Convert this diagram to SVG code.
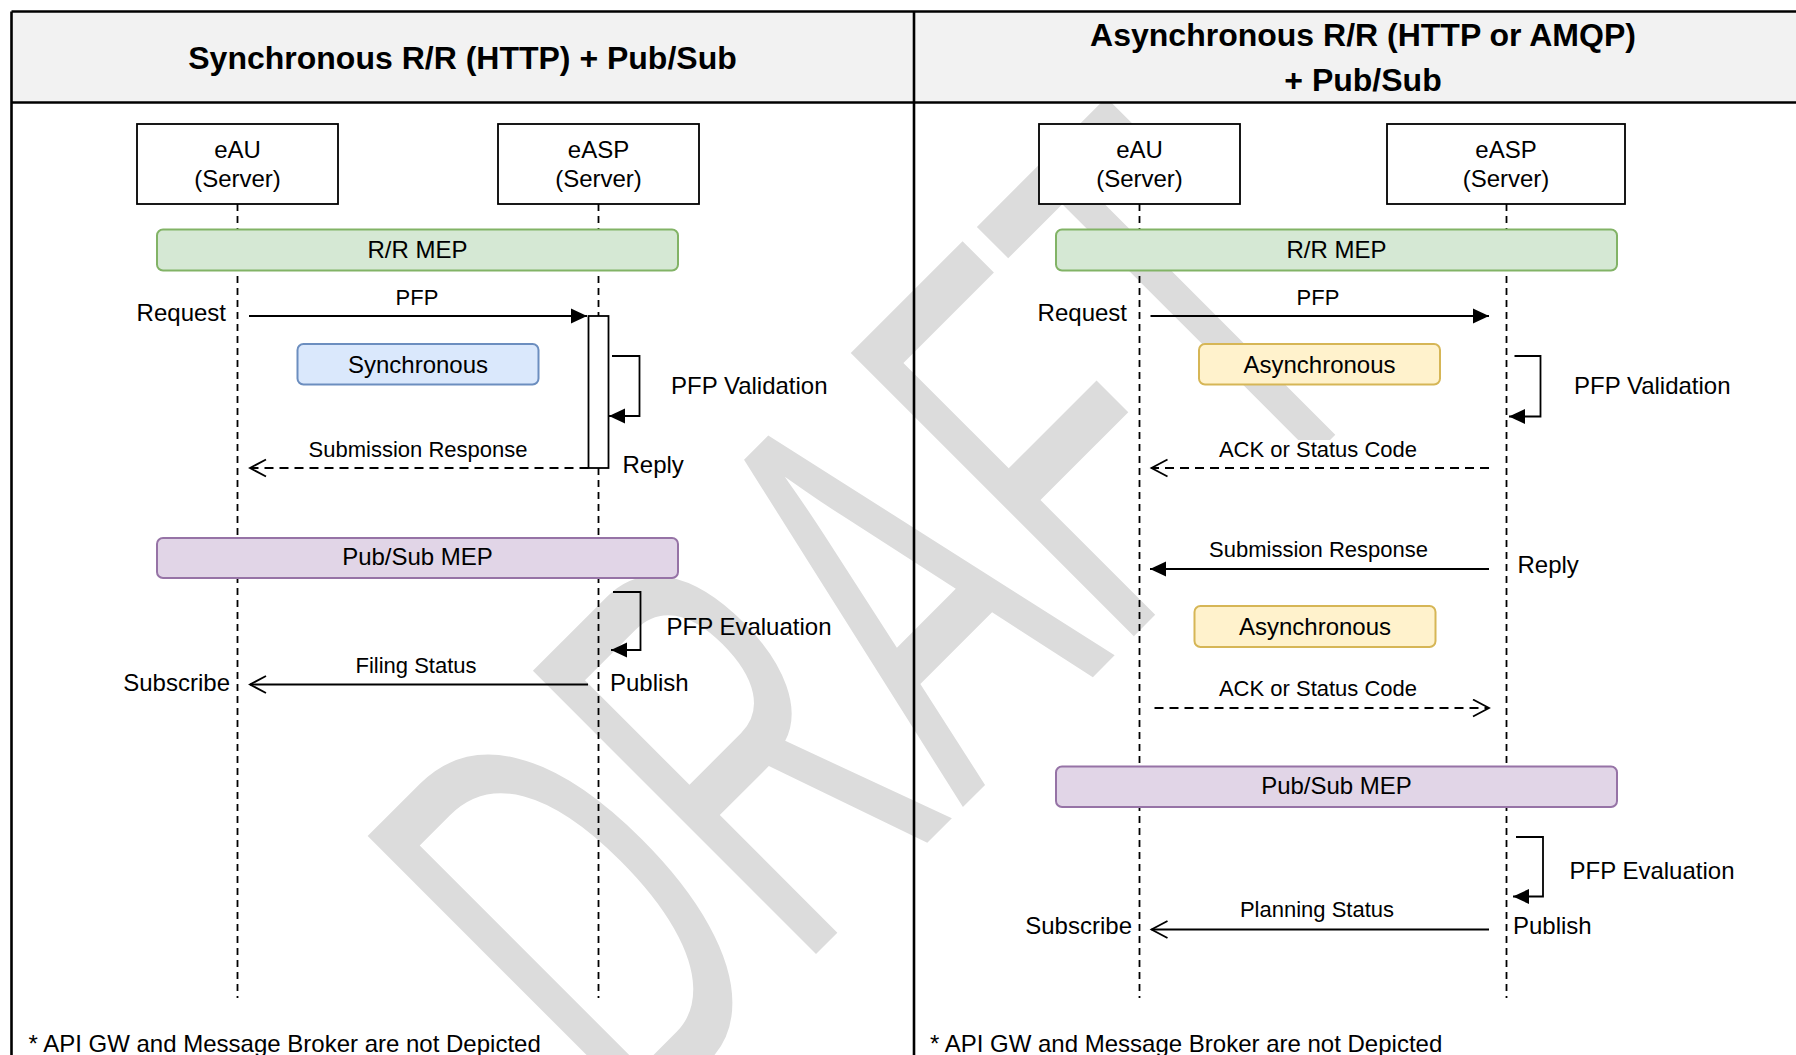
<svg xmlns="http://www.w3.org/2000/svg" width="1796" height="1055" viewBox="0 0 1796 1055">
<style>
text{font-family:"Liberation Sans",Arial,sans-serif;fill:#000}
.n{font-size:24px}
.e{font-size:22px}
.c{text-anchor:middle}
.r{text-anchor:end}
.title{font-weight:bold;font-size:32px}
.foot{font-size:24px}
.box{fill:#fff;stroke:#000;stroke-width:1.8}
.act{fill:#fff;stroke:#000;stroke-width:1.8}
.life{stroke:#000;stroke-width:1.8;stroke-dasharray:7 5;fill:none}
.msg{stroke:#000;stroke-width:1.8;fill:none}
.dash{stroke-dasharray:9 6}
.rr{fill:#d5e8d4;stroke:#82b366;stroke-width:2}
.ps{fill:#e1d5e7;stroke:#9673a6;stroke-width:2}
.sync{fill:#dae8fc;stroke:#6c8ebf;stroke-width:2}
.async{fill:#fff2cc;stroke:#d6b656;stroke-width:2}
.lbg{fill:#fff}
.frame{stroke:#000;stroke-width:2.6;fill:none}
</style>
<defs>
<marker id="blk" markerUnits="userSpaceOnUse" viewBox="0 0 17 16" markerWidth="17" markerHeight="16" refX="16" refY="8" orient="auto"><path d="M0,0.5 L16,8 L0,15.5 Z" fill="#000"/></marker>
<marker id="opn" markerUnits="userSpaceOnUse" viewBox="0 0 20 20" markerWidth="20" markerHeight="20" refX="17" refY="9.5" orient="auto"><path d="M1,1 L17,9.5 L1,18" fill="none" stroke="#000" stroke-width="1.8"/></marker>
</defs>
<rect x="0" y="0" width="1796" height="1055" fill="#fff"/>
<g id="watermark"><text transform="translate(632,1138) rotate(-45) scale(0.556,1)" font-size="582" style="fill:#dcdcdc">DRAFT</text></g>
<g id="frame">
<rect x="11.5" y="11.5" width="1790" height="91" fill="#f2f2f2"/>
<line class="frame" x1="11.5" y1="11.5" x2="1796" y2="11.5"/>
<line class="frame" x1="11.5" y1="102.5" x2="1796" y2="102.5"/>
<line class="frame" x1="11.5" y1="11.5" x2="11.5" y2="1055"/>
<line class="frame" x1="914" y1="11.5" x2="914" y2="1055"/>
</g>
<g id="titles">
<text class="title c" x="462.5" y="69">Synchronous R/R (HTTP) + Pub/Sub</text>
<text class="title c" x="1363" y="46">Asynchronous R/R (HTTP or AMQP)</text>
<text class="title c" x="1363" y="91">+ Pub/Sub</text>
</g>
<g id="lifelines">
<line class="life" x1="237.5" y1="204" x2="237.5" y2="998"/>
<line class="life" x1="598.5" y1="204" x2="598.5" y2="998"/>
<line class="life" x1="1139.5" y1="204" x2="1139.5" y2="998"/>
<line class="life" x1="1506.5" y1="204" x2="1506.5" y2="998"/>
</g>
<g id="left-eAU"><rect class="box" x="137" y="124" width="201" height="80"/><text class="n c" x="237.5" y="158">eAU</text><text class="n c" x="237.5" y="187">(Server)</text></g>
<g id="left-eASP"><rect class="box" x="498" y="124" width="201" height="80"/><text class="n c" x="598.5" y="158">eASP</text><text class="n c" x="598.5" y="187">(Server)</text></g>
<g id="left-rr-mep"><rect class="rr" x="157" y="229.5" width="521" height="41" rx="6"/><text class="n c" x="417.5" y="257.5">R/R MEP</text></g>
<g id="left-activation"><rect class="act" x="588.5" y="316" width="20" height="152"/></g>
<g id="left-sync"><rect class="sync" x="297.5" y="344" width="241" height="40.5" rx="6"/><text class="n c" x="418" y="372.5">Synchronous</text></g>
<g id="left-ps-mep"><rect class="ps" x="157" y="538" width="521" height="40" rx="6"/><text class="n c" x="417.5" y="565">Pub/Sub MEP</text></g>
<g id="right-eAU"><rect class="box" x="1039" y="124" width="201" height="80"/><text class="n c" x="1139.5" y="158">eAU</text><text class="n c" x="1139.5" y="187">(Server)</text></g>
<g id="right-eASP"><rect class="box" x="1387" y="124" width="238" height="80"/><text class="n c" x="1506" y="158">eASP</text><text class="n c" x="1506" y="187">(Server)</text></g>
<g id="right-rr-mep"><rect class="rr" x="1056" y="229.5" width="561" height="41" rx="6"/><text class="n c" x="1336.5" y="257.5">R/R MEP</text></g>
<g id="right-async1"><rect class="async" x="1199" y="344" width="241" height="40.5" rx="6"/><text class="n c" x="1319.5" y="372.5">Asynchronous</text></g>
<g id="right-async2"><rect class="async" x="1194.5" y="606" width="241" height="41" rx="6"/><text class="n c" x="1315" y="634.5">Asynchronous</text></g>
<g id="right-ps-mep"><rect class="ps" x="1056" y="766.5" width="561" height="40.5" rx="6"/><text class="n c" x="1336.5" y="793.5">Pub/Sub MEP</text></g>
<g id="connectors">
<path class="msg" d="M249,316 H587" marker-end="url(#blk)"/>
<path class="msg" d="M612,356 H639.5 V416 H609" marker-end="url(#blk)"/>
<path class="msg dash" d="M588.5,468 H250" marker-end="url(#opn)"/>
<path class="msg" d="M613,592 H640.5 V650 H611" marker-end="url(#blk)"/>
<path class="msg" d="M588,684.5 H250" marker-end="url(#opn)"/>
<path class="msg" d="M1150.5,316 H1489" marker-end="url(#blk)"/>
<path class="msg" d="M1514.5,356 H1540.5 V416.5 H1509" marker-end="url(#blk)"/>
<path class="msg dash" d="M1489,468 H1151.5" marker-end="url(#opn)"/>
<path class="msg" d="M1489,569 H1150" marker-end="url(#blk)"/>
<path class="msg dash" d="M1154.5,708 H1489" marker-end="url(#opn)"/>
<path class="msg" d="M1516,837 H1543 V896.5 H1513" marker-end="url(#blk)"/>
<path class="msg" d="M1489,929.5 H1151.5" marker-end="url(#opn)"/>
</g>
<g id="labels">
<rect class="lbg" x="396" y="288" width="42" height="22"/>
<text class="e c" x="417" y="305">PFP</text>
<rect class="lbg" x="308" y="440" width="220" height="22"/>
<text class="e c" x="418" y="456.5">Submission Response</text>
<rect class="lbg" x="355" y="656" width="122" height="22"/>
<text class="e c" x="416" y="673">Filing Status</text>
<rect class="lbg" x="1297" y="288" width="42" height="22"/>
<text class="e c" x="1318" y="305">PFP</text>
<rect class="lbg" x="1218" y="440" width="200" height="22"/>
<text class="e c" x="1318" y="456.5">ACK or Status Code</text>
<rect class="lbg" x="1208" y="540" width="220" height="22"/>
<text class="e c" x="1318.5" y="556.5">Submission Response</text>
<rect class="lbg" x="1218" y="679" width="200" height="22"/>
<text class="e c" x="1318" y="696">ACK or Status Code</text>
<rect class="lbg" x="1240" y="900" width="154" height="22"/>
<text class="e c" x="1317" y="917">Planning Status</text>
<text class="n r" x="226" y="321">Request</text>
<text class="n" x="671" y="394">PFP Validation</text>
<text class="n" x="622.5" y="473">Reply</text>
<text class="n" x="666.5" y="635">PFP Evaluation</text>
<text class="n r" x="230" y="691">Subscribe</text>
<text class="n" x="610" y="691">Publish</text>
<text class="n r" x="1127" y="321">Request</text>
<text class="n" x="1574" y="394">PFP Validation</text>
<text class="n" x="1517.5" y="572.5">Reply</text>
<text class="n" x="1569.5" y="879">PFP Evaluation</text>
<text class="n r" x="1132" y="934">Subscribe</text>
<text class="n" x="1513" y="934">Publish</text>
</g>
<g id="footnotes">
<text class="foot" x="28.5" y="1052">* API GW and Message Broker are not Depicted</text>
<text class="foot" x="930" y="1052">* API GW and Message Broker are not Depicted</text>
</g>
</svg>
